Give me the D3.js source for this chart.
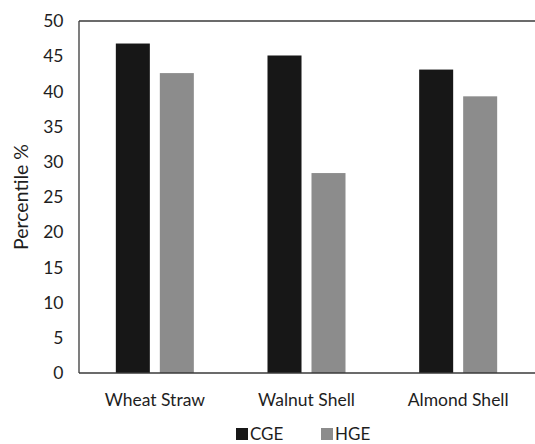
<!DOCTYPE html>
<html>
<head>
<meta charset="utf-8">
<script src="https://cdn.jsdelivr.net/npm/d3@7"></script>
<style>
body { margin: 0; background: #fff; }
text { font-family: Lato, "Open Sans", sans-serif; fill: #1e1e1e; }
</style>
</head>
<body>
<script>
var categories = ["Wheat Straw", "Walnut Shell", "Almond Shell"];
var seriesNames = ["CGE", "HGE"];
var cge = [46.8, 45.1, 43.1];
var hge = [42.6, 28.4, 39.3];
var yTicks = [0, 5, 10, 15, 20, 25, 30, 35, 40, 45, 50];
var colors = ["#171717", "#8c8c8c"];

var width = 535, height = 444;
var margin = {left: 79, top: 21, right: 1, bottom: 71};

var svg = d3.select("body").append("svg")
	.attr("width", width)
	.attr("height", height);

var x = d3.scaleBand()
	.domain(categories)
	.range([margin.left, width - margin.right]);

var xs = d3.scaleBand()
	.domain(seriesNames)
	.range([0, x.bandwidth()])
	.paddingInner(0.227)
	.paddingOuter(0.837);

var y = d3.scaleLinear()
	.domain([0, 50])
	.range([height - margin.bottom, margin.top]);

var rows = categories.map(function (c, i) {
	return {cat: c, vals: [cge[i], hge[i]]};
});

var groups = svg.selectAll("g.cat")
	.data(rows)
	.enter()
	.append("g")
	.attr("class", "cat")
	.attr("transform", function (d) { return "translate(" + x(d.cat) + ",0)"; });

groups.selectAll("rect")
	.data(function (d) { return d.vals.map(function (v, j) { return {s: seriesNames[j], v: v, j: j}; }); })
	.enter()
	.append("rect")
	.attr("x", function (d) { return xs(d.s); })
	.attr("width", xs.bandwidth())
	.attr("y", function (d) { return y(d.v); })
	.attr("height", function (d) { return y(0) - y(d.v); })
	.attr("fill", function (d) { return colors[d.j]; });

// frame
var frame = svg.append("g").attr("stroke", "#3a3a3a").attr("stroke-width", 1.3);
frame.append("line").attr("x1", margin.left).attr("x2", margin.left).attr("y1", y(50)).attr("y2", y(0));
frame.append("line").attr("x1", margin.left).attr("x2", width).attr("y1", y(50)).attr("y2", y(50));
frame.append("line").attr("x1", margin.left).attr("x2", width).attr("y1", y(0)).attr("y2", y(0));

// y axis
var yAxis = svg.append("g")
	.attr("transform", "translate(" + margin.left + ",0)")
	.call(d3.axisLeft(y).tickValues(yTicks).tickSize(0).tickPadding(15.5));
yAxis.select(".domain").remove();
yAxis.selectAll("text").style("font-size", "17.5px").attr("fill", "#1e1e1e");

// x labels
var xAxis = svg.append("g")
	.attr("transform", "translate(0," + y(0) + ")")
	.call(d3.axisBottom(x).tickSize(0));
xAxis.select(".domain").remove();
xAxis.selectAll("text").attr("y", 33).attr("dy", 0)
	.style("font-size", "17.5px").attr("fill", "#1e1e1e");

svg.append("text")
	.attr("transform", "translate(28," + ((y(0) + y(50)) / 2) + ") rotate(-90)")
	.attr("text-anchor", "middle")
	.style("font-size", "19.5px")
	.text("Percentile %");

// legend
var legendX = [236, 321];
var legend = svg.selectAll("g.leg")
	.data(seriesNames)
	.enter()
	.append("g")
	.attr("class", "leg")
	.attr("transform", function (d, i) { return "translate(" + legendX[i] + ",428)"; });
legend.append("rect").attr("width", 12).attr("height", 12)
	.attr("fill", function (d, i) { return colors[i]; });
legend.append("text").attr("x", 14).attr("y", 12)
	.style("font-size", "17px")
	.text(function (d) { return d; });
</script>
</body>
</html>
